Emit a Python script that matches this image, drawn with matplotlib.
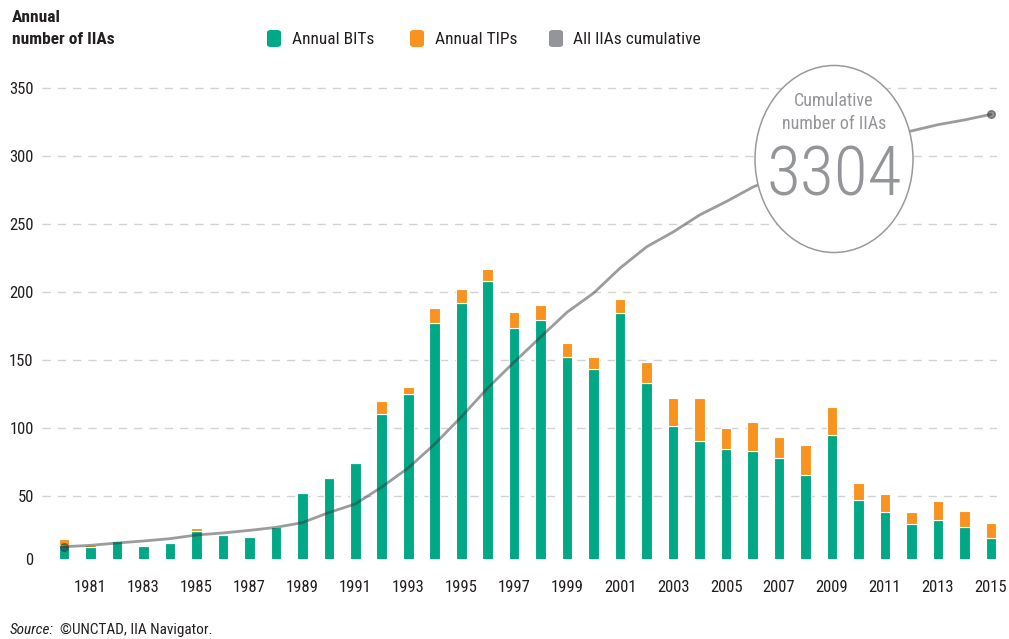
import matplotlib
matplotlib.use("Agg")
import matplotlib.pyplot as plt
from matplotlib import font_manager
from matplotlib.patches import Ellipse, FancyBboxPatch

# ---------------- data ----------------
years = list(range(1980, 2016))
bits = [14, 12, 17, 13, 15, 24, 21, 20, 27, 52, 63, 74, 110, 125, 177, 192, 208, 173,
        179, 152, 143, 184, 133, 101, 90, 84, 83, 78, 65, 95, 47, 38, 29, 32, 27, 19]
tips = [4, 2, 0, 0, 0, 2, 0, 0, 0, 0, 0, 0, 10, 5, 11, 10, 9, 12,
        11, 10, 9, 11, 15, 21, 32, 16, 21, 15, 22, 20, 12, 13, 9, 14, 12, 11]
cumulative = [125, 135, 152, 167, 184, 211, 226, 245, 267, 302, 376, 439, 564, 704,
              880, 1079, 1292, 1483, 1667, 1850, 1990, 2174, 2330, 2439, 2564, 2662,
              2768, 2850, 2930, 3010, 3075, 3135, 3182, 3228, 3263, 3304]
xtick_years = [1981, 1983, 1985, 1987, 1989, 1991, 1993, 1995, 1997, 1999, 2001,
               2003, 2005, 2007, 2009, 2011, 2013, 2015]
ytick_values = [50, 100, 150, 200, 250, 300, 350]
total_label = "3304"

# ---------------- fonts ----------------
names = {f.name for f in font_manager.fontManager.ttflist}
cond = None
for cand in ["Roboto Condensed", "Liberation Sans Narrow", "Open Sans Condensed"]:
    if cand in names:
        cond = cand
        break
stretch = "normal"
if cond is None:
    if any(f.name == "DejaVu Sans" and f.stretch == "condensed" for f in font_manager.fontManager.ttflist):
        cond = "DejaVu Sans"
        stretch = "condensed"
    else:
        cond = "Roboto"
plt.rcParams["font.family"] = [cond, "DejaVu Sans"]
plt.rcParams["font.stretch"] = stretch

GREEN = "#00A886"
ORANGE = "#F7931E"
GRAY = "#939598"
TXT = "#231F20"

W, H = 1009, 639
fig = plt.figure(figsize=(W / 100, H / 100), dpi=100)

def fx(px):
    return px / W

def fy(py):
    return 1 - py / H

# axes: 0 at 563.7 px, 1.36 px per unit; bottom clipped at baseline 559 px
ylo, yhi = 3.5, 355
ax_bottom_px = 563.7 - ylo * 1.36
ax_top_px = 563.7 - yhi * 1.36
ax = fig.add_axes([fx(42), fy(ax_bottom_px), fx(997) - fx(42), fy(ax_top_px) - fy(ax_bottom_px)])
ax.set_xlim(1979.17, 2015.23)
ax.set_ylim(ylo, yhi)

for v in ytick_values:
    ax.axhline(v, color="#d2d2d2", lw=1.0, dashes=(6, 5), zorder=0)

ax.bar(years, bits, width=0.4, color=GREEN, edgecolor="white", linewidth=0.8, zorder=2)
ax.bar(years, tips, width=0.4, bottom=bits, color=ORANGE, edgecolor="white", linewidth=0.8, zorder=2)

for s in ax.spines.values():
    s.set_visible(False)
ax.set_xticks(xtick_years)
ax.set_xticklabels([str(y) for y in xtick_years])
ax.set_yticks([ylo] + ytick_values)
ax.set_yticklabels(["0"] + [str(v) for v in ytick_values])
ax.tick_params(axis="x", length=0, pad=15, labelsize=12, labelcolor=TXT)
ax.tick_params(axis="y", length=0, pad=6, labelsize=12, labelcolor=TXT)

ax2 = ax.twinx()
ax2.set_ylim(ylo * 10, yhi * 10)
ax2.set_xlim(ax.get_xlim())
ax2.plot(years, cumulative, color="#3a3a3a", alpha=0.5, lw=2.0, solid_capstyle="round", zorder=3)
ax2.plot([years[0], years[-1]], [cumulative[0], cumulative[-1]], "o", color="#3a3a3a",
         alpha=0.55, ms=5.5, zorder=4)
ax2.axis("off")

# circle annotation
circ = Ellipse((fx(834), fy(159)), 158 / W, 187 / H, transform=fig.transFigure,
               facecolor="white", edgecolor="#9a9a9a", lw=1.1, zorder=5)
fig.add_artist(circ)
fig.text(fx(834), fy(101), "Cumulative", ha="center", va="center", fontsize=13,
         color=GRAY, zorder=6)
fig.text(fx(834), fy(124), "number of IIAs", ha="center", va="center", fontsize=13,
         color=GRAY, zorder=6)
fig.text(fx(834), fy(177), total_label, ha="center", va="center", fontsize=50,
         color=GRAY, zorder=6, fontweight="light")

# axis title
fig.text(fx(12), fy(17), "Annual", ha="left", va="center", fontsize=12.5,
         fontweight="bold", color=TXT)
fig.text(fx(12), fy(40), "number of IIAs", ha="left", va="center", fontsize=12.5,
         fontweight="bold", color=TXT)

# legend
legend_items = [("Annual BITs", GREEN, 267, 292), ("Annual TIPs", ORANGE, 410, 435),
                ("All IIAs cumulative", GRAY, 549, 573)]
for label, col, mx, tx in legend_items:
    box = FancyBboxPatch((fx(mx), fy(47)), 14 / W, 17 / H, transform=fig.transFigure,
                         boxstyle="round,pad=0,rounding_size=0.004", facecolor=col,
                         edgecolor="none")
    fig.add_artist(box)
    fig.text(fx(tx), fy(39), label, ha="left", va="center", fontsize=12.5, color=TXT)

# source
fig.text(fx(10), fy(630), "Source:", ha="left", va="center", fontsize=11,
         style="italic", color=TXT)
fig.text(fx(60), fy(630), "\u00a9UNCTAD, IIA Navigator.", ha="left", va="center",
         fontsize=11, color=TXT)

fig.savefig("out.png", dpi=100)
